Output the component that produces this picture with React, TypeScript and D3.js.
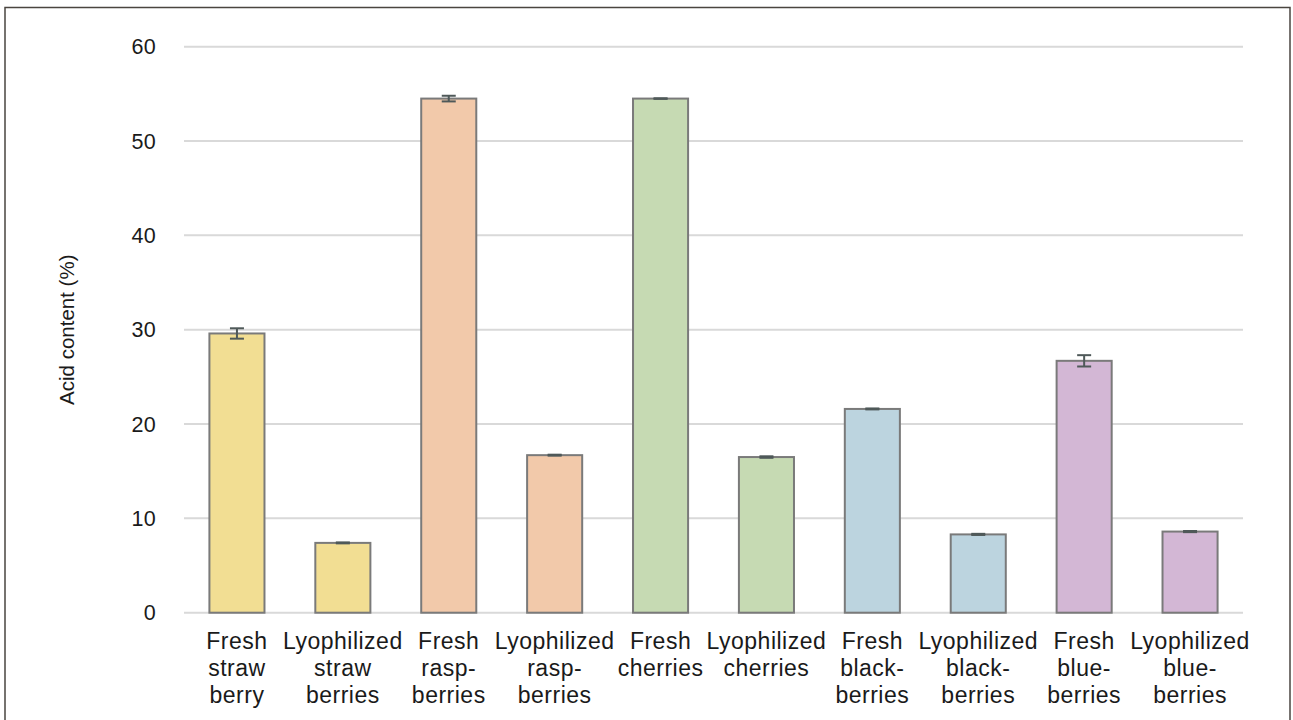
import React from "react";
import * as d3 from "d3";

const categories = [
  "Fresh strawberry",
  "Lyophilized strawberries",
  "Fresh raspberries",
  "Lyophilized raspberries",
  "Fresh cherries",
  "Lyophilized cherries",
  "Fresh blackberries",
  "Lyophilized blackberries",
  "Fresh blueberries",
  "Lyophilized blueberries",
];
const labelLines = [
  ["Fresh", "straw", "berry"],
  ["Lyophilized", "straw", "berries"],
  ["Fresh", "rasp-", "berries"],
  ["Lyophilized", "rasp-", "berries"],
  ["Fresh", "cherries"],
  ["Lyophilized", "cherries"],
  ["Fresh", "black-", "berries"],
  ["Lyophilized", "black-", "berries"],
  ["Fresh", "blue-", "berries"],
  ["Lyophilized", "blue-", "berries"],
];
const values = [29.6, 7.4, 54.5, 16.7, 54.5, 16.5, 21.6, 8.3, 26.7, 8.6];
const errors = [0.55, 0.05, 0.3, 0.05, 0.03, 0.08, 0.05, 0.06, 0.6, 0.06];
const colors = [
  "#f2de93", "#f2de93",
  "#f2c9aa", "#f2c9aa",
  "#c6dab3", "#c6dab3",
  "#bcd4df", "#bcd4df",
  "#d3b7d5", "#d3b7d5",
];
const yTicks = [0, 10, 20, 30, 40, 50, 60];
const yTitle = "Acid content (%)";

const W = 1293;
const H = 720;
const FONT = "'Liberation Sans', Arial, Helvetica, sans-serif";

export default function App() {
  const x = d3
    .scaleBand<string>()
    .domain(categories)
    .range([184, 1243])
    .paddingInner(0.48)
    .paddingOuter(0.24);
  const y = d3.scaleLinear().domain([0, 60]).range([612.7, 46.7]);
  const bw = x.bandwidth();
  const capW = 14;

  return (
    <svg
      width={W}
      height={H}
      style={{ position: "absolute", left: 0, top: 0, background: "#fff" }}
      fontFamily={FONT}
    >
      <rect x={5} y={7.5} width={1285} height={730} fill="#fff" stroke="#4a4540" strokeWidth={1.5} />
      {yTicks.map((t) => (
        <g key={t}>
          <line x1={184} x2={1243} y1={y(t)} y2={y(t)} stroke="#d9d9d9" strokeWidth={2} />
          <text x={156} y={y(t)} dy="0.35em" textAnchor="end" fontSize={21.5} letterSpacing={0.3} fill="#1a1a1a">
            {t}
          </text>
        </g>
      ))}
      <text
        transform={`translate(67,${(y(0) + y(60)) / 2}) rotate(-90)`}
        textAnchor="middle"
        dy="0.35em"
        fontSize={20.5}
        fill="#1a1a1a"
      >
        {yTitle}
      </text>
      {categories.map((c, i) => {
        const x0 = x(c)!;
        const cx = x0 + bw / 2;
        const v = values[i];
        const e = errors[i];
        return (
          <g key={c}>
            <rect
              x={x0}
              y={y(v)}
              width={bw}
              height={y(0) - y(v)}
              fill={colors[i]}
              stroke="#7a7a7a"
              strokeWidth={2}
            />
            <g stroke="#4f5959" strokeWidth={2}>
              <line x1={cx} x2={cx} y1={y(v + e)} y2={y(v - e)} />
              <line x1={cx - capW / 2} x2={cx + capW / 2} y1={y(v + e)} y2={y(v + e)} />
              <line x1={cx - capW / 2} x2={cx + capW / 2} y1={y(v - e)} y2={y(v - e)} />
            </g>
            <text x={cx} textAnchor="middle" fontSize={23} letterSpacing={0.5} fill="#1a1a1a">
              {labelLines[i].map((l, j) => (
                <tspan key={j} x={cx} y={649 + j * 27}>
                  {l}
                </tspan>
              ))}
            </text>
          </g>
        );
      })}
    </svg>
  );
}
